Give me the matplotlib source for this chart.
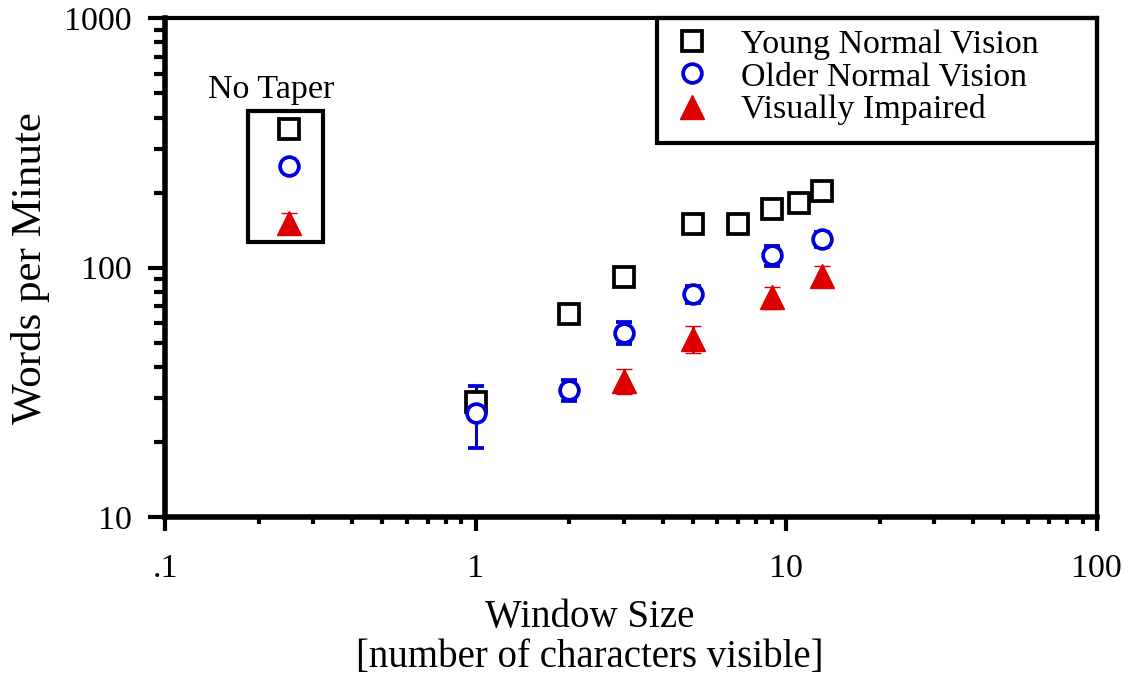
import matplotlib
matplotlib.use('Agg')
import matplotlib.pyplot as plt
from matplotlib.lines import Line2D
from matplotlib.patches import Rectangle
from matplotlib.ticker import FixedLocator, LogLocator, NullFormatter

plt.rcParams['font.family'] = ['Liberation Serif', 'DejaVu Serif']

# window size (characters visible) and reading rate (words per minute)
young_x = [1, 2, 3, 5, 7, 9, 11, 13]
young_y = [29, 65.5, 92, 150, 150, 172, 181, 203]
young_err = [2, 2, 2, 3, 3, 3, 3, 3]

older_x = [1, 2, 3, 5, 9, 13]
older_y = [26.2, 32.3, 54.8, 78.4, 112, 130]
older_err = [7.2, 3.2, 5.5, 6, 10, 9]

impaired_x = [3, 5, 9, 13]
impaired_y = [35.2, 52, 76, 93]
impaired_err = [4, 6.5, 7.5, 9]

# "No Taper" condition
taper_x = 0.25
taper_young, taper_young_err = 361, 12
taper_older, taper_older_err = 255, 8
taper_impaired, taper_impaired_err = 151, 15

labels = ['Young Normal Vision', 'Older Normal Vision', 'Visually Impaired']
colors = ['black', '#0000dd', '#dd0000']

fig = plt.figure(figsize=(11.25, 6.76), dpi=100)
ax = fig.add_axes([0.1467, 0.235, 0.8283, 0.738])

styles = [dict(marker='s', ms=14, mfc='white', mec=colors[0], mew=2.7),
          dict(marker='o', ms=13.5, mfc='white', mec=colors[1], mew=2.7),
          dict(marker='^', ms=17, mfc=colors[2], mec=colors[2], mew=1)]

series = [(young_x, young_y, young_err, taper_young, taper_young_err),
          (older_x, older_y, older_err, taper_older, taper_older_err),
          (impaired_x, impaired_y, impaired_err, taper_impaired, taper_impaired_err)]

for (xs, ys, es, ty, te), st, c in zip(series, styles, colors):
    ax.errorbar(xs + [taper_x], ys + [ty], yerr=es + [te], ls='none',
                ecolor=c, elinewidth=2.2, capsize=6, capthick=3, zorder=3, **st)

# box around the no-taper points
ax.add_patch(Rectangle((0.185, 127), 0.322 - 0.185, 425 - 127, fill=False,
                       ec='black', lw=3, zorder=2))
ax.text(0.219, 515, 'No Taper', ha='center', va='center', fontsize=24.5)

ax.set_xscale('log')
ax.set_yscale('log')
ax.set_xlim(0.1, 100)
ax.set_ylim(10, 1000)
ax.xaxis.set_major_locator(FixedLocator([0.1, 1, 10, 100]))
ax.set_xticklabels(['.1', '1', '10', '100'])
ax.yaxis.set_major_locator(FixedLocator([10, 100, 1000]))
ax.set_yticklabels(['10', '100', '1000'])
for a in (ax.xaxis, ax.yaxis):
    a.set_minor_locator(LogLocator(base=10, subs=range(2, 10)))
    a.set_minor_formatter(NullFormatter())

ax.tick_params(axis='both', which='major', labelsize=24.5, width=3)
ax.tick_params(axis='y', which='major', length=12, pad=12)
ax.tick_params(axis='y', which='minor', length=8, width=3)
ax.tick_params(axis='x', which='major', length=10, pad=16)
ax.tick_params(axis='x', which='minor', length=5, width=3)

ax.spines['left'].set_linewidth(4)
ax.spines['bottom'].set_linewidth(4)
ax.spines['top'].set_linewidth(3)
ax.spines['right'].set_linewidth(3)

ax.set_xlabel('Window Size\n[number of characters visible]', fontsize=28,
              linespacing=1.1, va='top')
ax.xaxis.set_label_coords(0.456, -0.165)
ax.set_ylabel('Words per Minute', fontsize=31)
ax.yaxis.set_label_coords(-0.123, 0.5)

# legend box drawn separately, legend entries without frame
ax.add_patch(Rectangle((0.528, 0.7495), 0.472, 0.2505, transform=ax.transAxes,
                       fill=False, ec='black', lw=3, zorder=4, clip_on=False))
handles = [Line2D([], [], ls='none', **st) for st in styles]
leg = ax.legend(handles, labels, loc='upper left', bbox_to_anchor=(0.547, 0.979),
                borderaxespad=0, fontsize=24.5, frameon=False,
                labelspacing=0.06, handletextpad=0.95, borderpad=0,
                handlelength=1.0)

fig.savefig('out.png', dpi=100)
